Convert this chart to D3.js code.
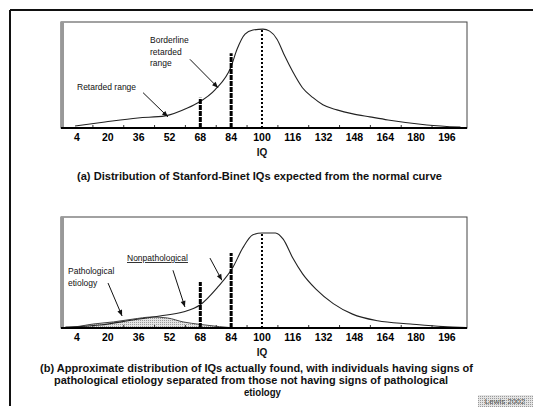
<!DOCTYPE html>
<html>
<head>
<meta charset="utf-8">
<script src="https://cdn.jsdelivr.net/npm/d3@7"></script>
<style>
    body { margin: 0; background: #fff; }
    svg { display: block; font-family: "Liberation Sans", Arial, sans-serif; }
    .tick_lbl { font-size: 10.5px; font-weight: bold; text-anchor: middle; }
    .note { font-size: 8.5px; fill: #111; }
    .cap { font-size: 10px; font-weight: bold; fill: #111; }
</style>
</head>
<body>
<div id="chart"></div>
<script>
// x axis
var iq_ticks = [4, 20, 36, 52, 68, 84, 100, 116, 132, 148, 164, 180, 196];
var iq_minor = [12, 28, 44, 60, 76, 92, 108, 124, 140, 156, 172, 188];

// (a) expected normal curve
var a_iq = [3, 18.5, 35.6, 49.7, 61.6, 66.8, 75.6, 84, 87, 91.2, 95.3, 100.5, 104, 107.8, 111.9, 116, 121, 126.5, 131.6, 138.9, 147.2, 156, 165.4, 185.6, 203];
var a_val = [1.9, 5.7, 9.5, 11.4, 19, 23.8, 36, 58, 74, 88.6, 92.4, 93.3, 91.4, 83.8, 67.6, 53, 38, 28.6, 21.9, 17.1, 13.3, 10.5, 7.6, 2.9, 0.8];

// (b) actually found
var b_iq = [-2, 16, 33, 47, 59, 67.8, 76.6, 85, 90, 95.3, 100, 107, 111, 116, 121, 128, 137, 147, 160, 177, 194, 206];
var b_val = [0.8, 2.7, 7.2, 10.8, 14.4, 20.7, 36, 55, 72, 84, 85.6, 85.6, 80, 63, 49, 35, 22, 12.5, 6.5, 3.6, 1.2, 0.5];

// (b) pathological etiology hump
var patho_iq = [-3, 5, 12, 23, 33, 43, 51, 59, 68, 78, 86];
var patho_val = [0, 1.5, 3.5, 5.5, 8, 9.9, 9, 5.5, 3.2, 1.2, 0];

// cut-off marks
var mark_iq = [68, 84, 100];
var mark_a = [28.6, 70.5, 93.3];
var mark_b = [41.4, 67.6, 85.6];

var W = 533, H = 410;
var svg = d3.select("#chart").append("svg").attr("width", W).attr("height", H);

var defs = svg.append("defs");
var pat = defs.append("pattern").attr("id", "dots").attr("width", 2).attr("height", 2).attr("patternUnits", "userSpaceOnUse");
pat.append("rect").attr("width", 2).attr("height", 2).attr("fill", "#e4e4e4");
pat.append("rect").attr("width", 1).attr("height", 1).attr("fill", "#9a9a9a");

// page frame
svg.append("line").attr("x1", 10).attr("x2", W).attr("y1", 10).attr("y2", 10).attr("stroke", "#111").attr("stroke-width", 2);
svg.append("line").attr("x1", 10).attr("x2", 10).attr("y1", 10).attr("y2", 406).attr("stroke", "#111").attr("stroke-width", 2);

var x = d3.scaleLinear().domain([-4.3, 206.4]).range([61, 467]);

function zip(xs, ys) {
    return xs.map(function (d, i) { return [d, ys[i]]; });
}

function arrow(g, y, a) {
    var x1 = x(a[0]), y1 = y(a[1]), x2 = x(a[2]), y2 = y(a[3]);
    var ang = Math.atan2(y2 - y1, x2 - x1);
    g.append("line").attr("x1", x1).attr("y1", y1).attr("x2", x2).attr("y2", y2).attr("stroke", "#111").attr("stroke-width", 1);
    var hl = 6, hw = 2.5;
    var bx = x2 - hl * Math.cos(ang), by = y2 - hl * Math.sin(ang);
    g.append("path")
            .attr("d", "M" + x2 + "," + y2 + "L" + (bx - hw * Math.sin(ang)) + "," + (by + hw * Math.cos(ang)) +
                    "L" + (bx + hw * Math.sin(ang)) + "," + (by - hw * Math.cos(ang)) + "Z")
            .attr("fill", "#111");
}

function draw_panel(top, bottom, iqs, vals, marks, opts) {
    var g = svg.append("g");
    var y = d3.scaleLinear().domain([0, 100]).range([bottom, top]);

    // frame
    g.append("rect").attr("x", x.range()[0]).attr("y", top).attr("width", x.range()[1] - x.range()[0]).attr("height", bottom - top)
            .attr("fill", "none").attr("stroke", "#444").attr("stroke-width", 1);
    g.append("line").attr("x1", x.range()[0] + 1.5).attr("x2", x.range()[0] + 1.5).attr("y1", top).attr("y2", bottom)
            .attr("stroke", "#999").attr("stroke-width", 3);

    if (opts.patho) {
        var area = d3.area().x(function (d) { return x(d[0]); }).y0(y(0)).y1(function (d) { return y(d[1]); }).curve(d3.curveMonotoneX);
        g.append("path").datum(zip(patho_iq, patho_val)).attr("d", area)
                .attr("fill", "url(#dots)").attr("stroke", "#444").attr("stroke-width", 1);
    }

    var line = d3.line().x(function (d) { return x(d[0]); }).y(function (d) { return y(d[1]); }).curve(d3.curveMonotoneX);
    g.append("path").datum(zip(iqs, vals)).attr("d", line)
            .attr("fill", "none").attr("stroke", "#222").attr("stroke-width", 1.1);

    // cut-off marks
    mark_iq.forEach(function (m, i) {
        var dotted = m === 100;
        g.append("line").attr("x1", x(m)).attr("x2", x(m)).attr("y1", y(0)).attr("y2", y(marks[i]))
                .attr("stroke", "#000")
                .attr("stroke-width", dotted ? 2 : 3)
                .attr("stroke-dasharray", dotted ? "2,2" : "5,1");
    });

    // axis
    var axis = d3.axisBottom(x).tickValues(iq_minor).tickSize(-3).tickFormat("");
    var ax = g.append("g").attr("transform", "translate(0," + bottom + ")").call(axis);
    ax.select(".domain").remove();
    ax.selectAll("line").attr("stroke", "#333");
    g.append("line").attr("x1", x.range()[0]).attr("x2", x.range()[1]).attr("y1", bottom).attr("y2", bottom)
            .attr("stroke", "#000").attr("stroke-width", 2);

    g.selectAll(".tick_lbl").data(iq_ticks).enter().append("text").attr("class", "tick_lbl")
            .attr("x", function (d) { return x(d); })
            .attr("y", bottom + 13)
            .text(function (d) { return d; });

    g.append("text").attr("class", "cap").attr("x", x(100)).attr("y", opts.iqY).attr("text-anchor", "middle").text("IQ");

    opts.arrows.forEach(function (a) { arrow(g, y, a); });
    opts.notes.forEach(function (n) {
        var t = g.append("text").attr("class", "note").attr("x", n[0]).attr("y", n[1]).text(n[2]);
        if (n[3]) t.attr("text-decoration", "underline");
    });
    opts.caps.forEach(function (c) {
        g.append("text").attr("class", "cap").attr("x", c[0]).attr("y", c[1])
                .attr("textLength", c[2]).attr("lengthAdjust", "spacingAndGlyphs").text(c[3]);
    });
}

draw_panel(22, 128, a_iq, a_val, mark_a, {
    iqY: 156,
    arrows: [[62.6, 64.8, 77.2, 38], [38.3, 33.3, 51.2, 10.5]],
    notes: [[150, 43, "Borderline"], [150, 55, "retarded"], [150, 66, "range"], [77, 90, "Retarded range"]],
    caps: [[77, 180, 365, "(a) Distribution of Stanford-Binet IQs expected from the normal curve"]]
});

draw_panel(217, 328, b_iq, b_val, mark_b, {
    patho: true,
    iqY: 356,
    arrows: [[20.1, 40.5, 27.4, 10.8], [53.8, 52, 60, 19], [73, 63, 79.2, 43]],
    notes: [[127, 261, "Nonpathological", true], [68, 274, "Pathological"], [68, 286, "etiology"]],
    caps: [[40, 372, 433, "(b) Approximate distribution of IQs actually found, with individuals having signs of"],
        [54, 384, 394, "pathological etiology separated from those not having signs of pathological"],
        [244, 396, 37, "etiology"]]
});

// source tag
svg.append("rect").attr("x", 478).attr("y", 395).attr("width", 55).attr("height", 12).attr("fill", "url(#dots)");
svg.append("text").attr("x", 505).attr("y", 404).attr("text-anchor", "middle")
        .style("font-size", "8px").attr("fill", "#555").text("Lewis 2002");
</script>
</body>
</html>
